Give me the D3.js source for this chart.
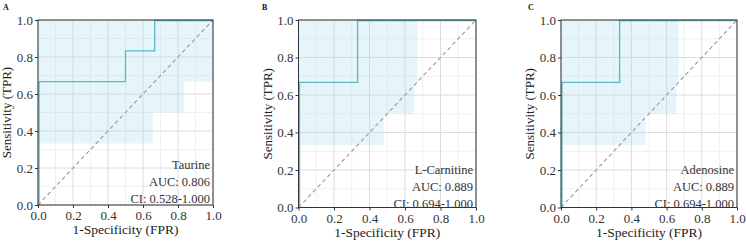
<!DOCTYPE html>
<html><head><meta charset="utf-8">
<script src="https://cdn.jsdelivr.net/npm/d3@7"></script>
<style>body{margin:0;background:#fff}svg{display:block}text{font-family:"Liberation Serif","Times New Roman",serif}</style>
</head><body>
<svg id="c" width="746" height="242"></svg>
<script>
const panelLabels = ["A", "B", "C"];
const metabolites = ["Taurine", "L-Carnitine", "Adenosine"];
const aucs = ["0.806", "0.889", "0.889"];
const cis = ["0.528-1.000", "0.694-1.000", "0.694-1.000"];
const rocFPR = [
  [0, 0, 0.5, 0.5, 0.667, 0.667, 1],
  [0, 0, 0.333, 0.333, 1],
  [0, 0, 0.333, 0.333, 1]
];
const rocTPR = [
  [0, 0.667, 0.667, 0.833, 0.833, 1, 1],
  [0, 0.667, 0.667, 1, 1],
  [0, 0.667, 0.667, 1, 1]
];
const bandFPR = [
  [0, 0.655, 0.835, 1],
  [0, 0.48, 0.65, 0.67],
  [0, 0.48, 0.655, 0.67]
];
const bandLower = [
  [0.333, 0.5, 0.667, 0.667],
  [0.333, 0.5, 0.667, 0.667],
  [0.333, 0.5, 0.667, 0.667]
];
const ticks = [0, 0.2, 0.4, 0.6, 0.8, 1.0];
const minorTicks = [0.1, 0.3, 0.5, 0.7, 0.9];

const layouts = [
  {x0: 38, x1: 213, y0: 20, y1: 205, lx: 3, ly: 10},
  {x0: 298.5, x1: 476, y0: 20, y1: 207.5, lx: 262, ly: 10},
  {x0: 561, x1: 737, y0: 20, y1: 207.5, lx: 528, ly: 10}
];

const svg = d3.select("#c");
const lineColor = "#5bb6c6";

layouts.forEach((L, i) => {
  const x = d3.scaleLinear().domain([0, 1]).range([L.x0, L.x1]);
  const y = d3.scaleLinear().domain([0, 1]).range([L.y1, L.y0]);
  const g = svg.append("g");

  minorTicks.forEach(t => {
    g.append("line").attr("x1", x(t)).attr("x2", x(t)).attr("y1", L.y0).attr("y2", L.y1)
      .attr("stroke", "#ececec").attr("stroke-width", 0.8);
    g.append("line").attr("y1", y(t)).attr("y2", y(t)).attr("x1", L.x0).attr("x2", L.x1)
      .attr("stroke", "#ececec").attr("stroke-width", 0.8);
  });
  ticks.forEach(t => {
    g.append("line").attr("x1", x(t)).attr("x2", x(t)).attr("y1", L.y0).attr("y2", L.y1)
      .attr("stroke", "#dcdcdc").attr("stroke-width", 1);
    g.append("line").attr("y1", y(t)).attr("y2", y(t)).attr("x1", L.x0).attr("x2", L.x1)
      .attr("stroke", "#dcdcdc").attr("stroke-width", 1);
  });

  const bandData = bandFPR[i].map((f, k) => ({f, lo: bandLower[i][k]}));
  const area = d3.area().curve(d3.curveStepAfter)
    .x(d => x(d.f)).y0(d => y(d.lo)).y1(() => y(1));
  g.append("path").datum(bandData).attr("d", area)
    .attr("fill", "rgb(173,222,236)").attr("fill-opacity", 0.3);

  g.append("line").attr("x1", x(0)).attr("y1", y(0)).attr("x2", x(1)).attr("y2", y(1))
    .attr("stroke", "#999").attr("stroke-width", 1.1).attr("stroke-dasharray", "4,3");

  const rocData = rocFPR[i].map((f, k) => [f, rocTPR[i][k]]);
  g.append("path").datum(rocData)
    .attr("d", d3.line().x(d => x(d[0]) + (d[0] === 0 ? 1 : 0)).y(d => y(d[1]) + (d[1] === 1 ? 0.5 : 0)))
    .attr("fill", "none").attr("stroke", lineColor).attr("stroke-width", 1.3);

  g.append("rect").attr("x", L.x0).attr("y", L.y0).attr("width", L.x1 - L.x0).attr("height", L.y1 - L.y0)
    .attr("fill", "none").attr("stroke", "#333").attr("stroke-width", 1);

  const xAxis = g.append("g").attr("transform", `translate(0,${L.y1})`)
    .call(d3.axisBottom(x).tickValues(ticks).tickFormat(d3.format(".1f")).tickSize(3).tickPadding(3));
  const yAxis = g.append("g").attr("transform", `translate(${L.x0},0)`)
    .call(d3.axisLeft(y).tickValues(ticks).tickFormat(d3.format(".1f")).tickSize(3).tickPadding(2));
  [xAxis, yAxis].forEach(a => {
    a.select(".domain").remove();
    a.selectAll(".tick line").attr("stroke", "#333");
    a.selectAll(".tick text").attr("fill", "#333").style("font-size", "13px")
      .style("font-family", '"Liberation Serif", serif');
  });

  g.append("text").attr("x", (L.x0 + L.x1) / 2).attr("y", L.y1 + 29)
    .attr("text-anchor", "middle").attr("fill", "#222").style("font-size", "13.5px")
    .text("1-Specificity (FPR)");
  g.append("text").attr("transform", `translate(${L.x0 - 27},${(L.y0 + L.y1) / 2}) rotate(-90)`)
    .attr("text-anchor", "middle").attr("fill", "#222").style("font-size", "13px")
    .text("Sensitivity (TPR)");

  const ax = L.x1 - 3;
  const lines = [metabolites[i], "AUC: " + aucs[i], "CI: " + cis[i]];
  lines.forEach((t, k) => {
    g.append("text").attr("x", ax).attr("y", L.y1 - 36 + k * 17 - (L.y1 - L.y0 > 186 ? -2 : 0))
      .attr("text-anchor", "end").attr("fill", "#333").style("font-size", "12.5px").text(t);
  });

  g.append("text").attr("x", L.lx).attr("y", L.ly).attr("fill", "#111")
    .style("font-size", "8px").style("font-weight", "bold").text(panelLabels[i]);
});
</script>
</body></html>
